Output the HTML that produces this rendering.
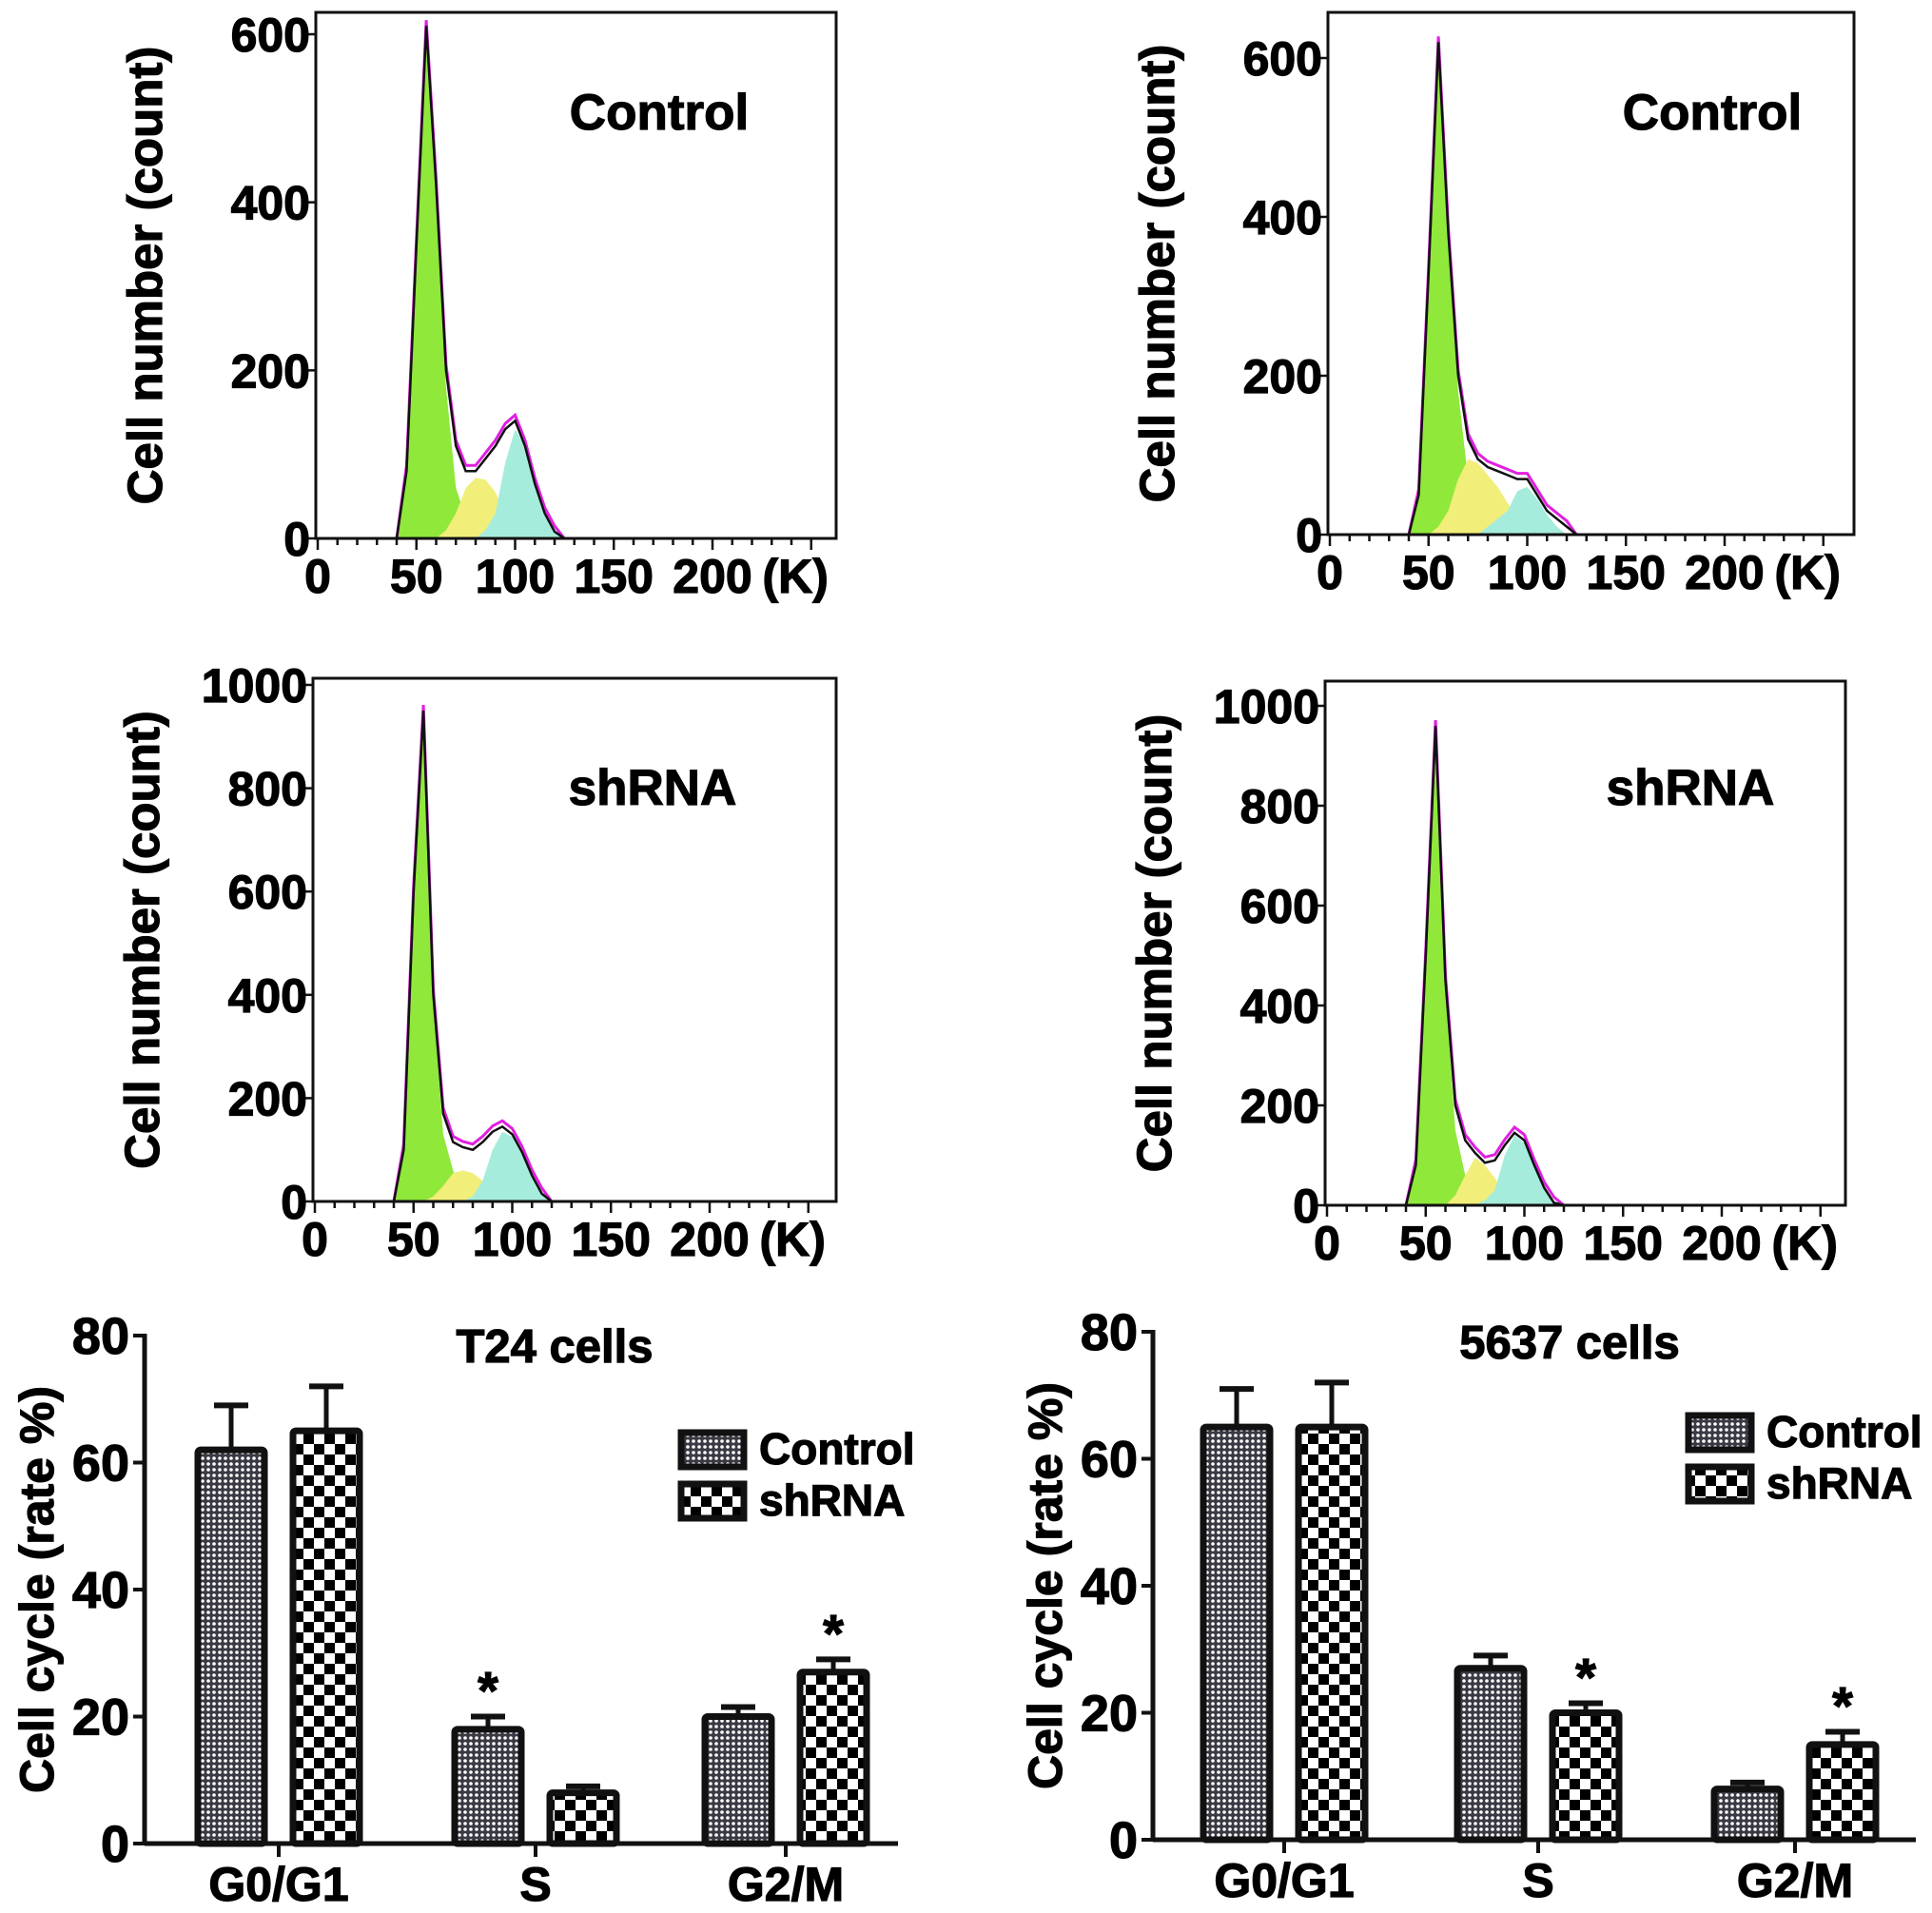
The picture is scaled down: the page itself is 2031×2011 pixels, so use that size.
<!DOCTYPE html>
<html><head><meta charset="utf-8"><style>
html,body{margin:0;padding:0;background:#fff;}
svg{display:block;font-family:"Liberation Sans",sans-serif;font-weight:bold;}
text{stroke:#000;stroke-width:1.2px;}
</style></head><body>
<svg id="fig" width="2031" height="2011" viewBox="0 0 2031 2011" xmlns="http://www.w3.org/2000/svg">
<defs>
<pattern id="patCtrl" width="6" height="6" patternUnits="userSpaceOnUse">
<rect width="6" height="6" fill="#3a3a44"/><circle cx="3" cy="3" r="1.8" fill="#fff"/>
</pattern>
<pattern id="patSh" width="22" height="22" patternUnits="userSpaceOnUse">
<rect width="22" height="22" fill="#fff"/><rect width="11" height="11" fill="#000"/><rect x="11" y="11" width="11" height="11" fill="#000"/>
</pattern>
</defs>
</svg>
<script>
// ---- Histogram data (K grid and counts) ----
const kGrid = [30,35,40,45,50,55,60,65,70,75,80,85,90,95,100,105,110,115,120,125,130];
const tlTotal = [0,0,0,80,350,610,420,200,110,80,80,95,110,130,140,110,65,30,8,0,0];
const tlG1    = [0,0,0,80,350,600,420,180,60,25,8,0,0,0,0,0,0,0,0,0,0];
const tlS     = [0,0,0,0,0,0,0,10,30,60,72,70,55,30,10,0,0,0,0,0,0];
const tlG2    = [0,0,0,0,0,0,0,0,0,0,0,10,30,90,130,110,65,30,8,0,0];
const trTotal = [0,0,0,50,330,620,380,200,120,95,85,80,75,70,70,50,30,20,10,0,0];
const trG1    = [0,0,0,50,320,600,380,180,70,30,10,0,0,0,0,0,0,0,0,0,0];
const trS     = [0,0,0,0,0,10,30,70,95,90,75,60,40,20,5,0,0,0,0,0,0];
const trG2    = [0,0,0,0,0,0,0,0,0,0,10,20,30,55,60,45,25,10,0,0,0];
const mlTotal = [0,0,0,100,600,950,400,170,115,105,100,115,135,145,130,95,50,15,0,0,0];
const mlG1    = [0,0,0,100,600,930,380,130,60,25,5,0,0,0,0,0,0,0,0,0,0];
const mlS     = [0,0,0,0,0,0,10,30,55,60,55,40,20,5,0,0,0,0,0,0,0];
const mlG2    = [0,0,0,0,0,0,0,0,0,0,10,40,100,135,125,90,50,15,0,0,0];
const mrTotal = [0,0,0,80,500,960,450,200,130,105,85,90,120,145,130,80,35,5,0,0,0];
const mrG1    = [0,0,0,80,500,950,430,150,60,25,5,0,0,0,0,0,0,0,0,0,0];
const mrS     = [0,0,0,0,0,0,0,20,60,95,80,55,25,5,0,0,0,0,0,0,0];
const mrG2    = [0,0,0,0,0,0,0,0,0,0,10,30,100,140,125,80,35,5,0,0,0];
const xTickLabels = ["0","50","100","150","200"];
const xTickVals = [0,50,100,150,200];
const yTicks600 = [0,200,400,600];
const yTicks1000 = [0,200,400,600,800,1000];

// ---- Bar chart data ----
const categories = ["G0/G1","S","G2/M"];
const t24Control = [62,18,20];
const t24ControlErr = [7,2,1.5];
const t24Sh = [65,8,27];
const t24ShErr = [7,1,2];
const c5637Control = [65,27,8];
const c5637ControlErr = [6,2,1];
const c5637Sh = [65,20,15];
const c5637ShErr = [7,1.5,2];
const barYTicks = [0,20,40,60,80];

const NS="http://www.w3.org/2000/svg";
const svg=document.getElementById('fig');
function mk(tag,attrs,parent){const e=document.createElementNS(NS,tag);for(const k in attrs)e.setAttribute(k,attrs[k]);(parent||svg).appendChild(e);return e;}

function histPanel(p){
  const g=mk('g',{});
  
  
  const sx=v=>p.left+2+v*2.075;
  const sy=v=>p.y0-(v/p.ymax)*(p.y0-p.ytop);
  function area(arr,fill,nm){
    let d='M'+sx(kGrid[0])+','+sy(0);
    arr.forEach((v,i)=>{d+=' L'+sx(kGrid[i]).toFixed(1)+','+sy(v).toFixed(1);});
    d+=' L'+sx(kGrid[kGrid.length-1])+','+sy(0)+' Z';
    const e=mk('path',{d:d,fill:fill,stroke:'none'},g);
    
    
  }
  area(p.g1,'#8fe83a','g1-phase-area');
  area(p.s,'#f2ee7a','s-phase-area');
  area(p.g2,'#a6ecdc','g2m-phase-area');
  function line(arr,col,off,nm,w){
    let d='M'+p.left+','+sy(0);
    arr.forEach((v,i)=>{d+=' L'+sx(kGrid[i]).toFixed(1)+','+(sy(v)-(v>0?off:0)).toFixed(1);});
    d+=' L'+p.right+','+sy(0);
    const e=mk('path',{d:d,fill:'none',stroke:col,'stroke-width':w},g);
    
    
  }
  line(p.total,'#e020e0',6,'fit-line',3);
  line(p.total,'#111',0,'histogram-line',2.5);
  const box=mk('rect',{x:p.left,y:p.top,width:p.right-p.left,height:p.y0-p.top,fill:'none',stroke:'#111','stroke-width':3},g);
  
  
  for(let v=0;v<=250;v+=10){
    if(sx(v)>p.right)break;
    mk('line',{x1:sx(v),x2:sx(v),y1:p.y0,y2:p.y0+(v%50===0?12:7),stroke:'#111','stroke-width':2.5},g);
  }
  xTickVals.forEach((v,i)=>{
    const t=mk('text',{x:sx(v),y:p.y0+57,'font-size':50,'text-anchor':'middle'},g);
    t.textContent=xTickLabels[i];
    
    
  });
  const kk=mk('text',{x:sx(242),y:p.y0+57,'font-size':50,'text-anchor':'middle'},g);
  kk.textContent='(K)';
  
  
  p.yticks.forEach(v=>{
    mk('line',{x1:p.left-8,x2:p.left,y1:sy(v),y2:sy(v),stroke:'#111','stroke-width':2.5},g);
    const t=mk('text',{x:p.left-6,y:sy(v)+18,'font-size':50,'text-anchor':'end'},g);
    t.textContent=v;
    
    
  });
  const yt=mk('text',{x:0,y:0,'font-size':51,'text-anchor':'middle',transform:'translate('+(p.left-162)+','+((p.top+p.y0)/2)+') rotate(-90)'},g);
  yt.textContent='Cell number (count)';
  
  
  const lb=mk('text',{x:p.lx,y:p.ly,'font-size':53,'text-anchor':'middle'},g);
  lb.textContent=p.label;
  
  
}
histPanel({name:'t24-control-histogram',left:332,right:879,top:13,y0:566,ytop:36,ymax:600,yticks:yTicks600,total:tlTotal,g1:tlG1,s:tlS,g2:tlG2,label:'Control',lx:693,ly:136});
histPanel({name:'5637-control-histogram',left:1396,right:1949,top:13,y0:562,ytop:61,ymax:600,yticks:yTicks600,total:trTotal,g1:trG1,s:trS,g2:trG2,label:'Control',lx:1800,ly:136});
histPanel({name:'t24-shrna-histogram',left:329,right:879,top:713,y0:1263,ytop:720,ymax:1000,yticks:yTicks1000,total:mlTotal,g1:mlG1,s:mlS,g2:mlG2,label:'shRNA',lx:686,ly:846});
histPanel({name:'5637-shrna-histogram',left:1393,right:1940,top:716,y0:1267,ytop:742,ymax:1000,yticks:yTicks1000,total:mrTotal,g1:mrG1,s:mrS,g2:mrG2,label:'shRNA',lx:1777,ly:846});

function barChart(p){
  const g=mk('g',{});
  
  
  const sy=v=>p.y0-(v/80)*(p.y0-p.y80);
  function bar(cx,v,err,pat,nm,star){
    const w=70,x=cx-w/2;
    mk('line',{x1:cx,x2:cx,y1:sy(v),y2:sy(v+err),stroke:'#111','stroke-width':5},g);
    mk('line',{x1:cx-18,x2:cx+18,y1:sy(v+err),y2:sy(v+err),stroke:'#111','stroke-width':6},g);
    const r=mk('rect',{x:x,y:sy(v),width:w,height:p.y0-sy(v),fill:'url(#'+pat+')',stroke:'#111','stroke-width':7,rx:3},g);
    
    
    if(star){
      const s=mk('text',{x:cx,y:sy(v+err)-8,'font-size':56,'text-anchor':'middle'},g);
      s.textContent='*';
      
      
    }
  }
  categories.forEach((c,i)=>{
    const cx=p.cx[i];
    bar(cx-50,p.ctrl[i],p.ctrlErr[i],'patCtrl','bar-control-'+i,p.starCtrl[i]);
    bar(cx+50,p.sh[i],p.shErr[i],'patSh','bar-shrna-'+i,p.starSh[i]);
    mk('line',{x1:cx,x2:cx,y1:p.y0,y2:p.y0+14,stroke:'#111','stroke-width':4},g);
    const t=mk('text',{x:cx,y:p.y0+60,'font-size':50,'text-anchor':'middle'},g);
    t.textContent=c;
    
    
  });
  mk('line',{x1:p.ax,x2:p.ax,y1:p.y80-2,y2:p.y0,stroke:'#111','stroke-width':5},g);
  mk('line',{x1:p.ax,x2:p.xr,y1:p.y0,y2:p.y0,stroke:'#111','stroke-width':5},g);
  barYTicks.forEach(v=>{
    mk('line',{x1:p.ax-12,x2:p.ax,y1:sy(v),y2:sy(v),stroke:'#111','stroke-width':4},g);
    const t=mk('text',{x:p.ax-16,y:sy(v)+19,'font-size':54,'text-anchor':'end'},g);
    t.textContent=v;
    
    
  });
  const yt=mk('text',{x:0,y:0,'font-size':50,'text-anchor':'middle',transform:'translate('+(p.ax-96)+','+((p.y80+p.y0)/2)+') rotate(-90)'},g);
  yt.textContent='Cell cycle (rate %)';
  
  
  const tt=mk('text',{x:p.tx,y:p.y80+28,'font-size':49,'text-anchor':'middle'},g);
  tt.textContent=p.title;
  
  
  [['Control','patCtrl'],['shRNA','patSh']].forEach((L,i)=>{
    const y=p.ly+i*54;
    const lg=mk('g',{},g);
    
    
    mk('rect',{x:p.lx,y:y,width:66,height:36,fill:'url(#'+L[1]+')',stroke:'#111','stroke-width':7},lg);
    const t=mk('text',{x:p.lx+82,y:y+33,'font-size':46},lg);
    t.textContent=L[0];
  });
}
barChart({name:'t24-cell-cycle-chart',ax:152,xr:944,y0:1938,y80:1404,cx:[293,563,826],ctrl:t24Control,ctrlErr:t24ControlErr,sh:t24Sh,shErr:t24ShErr,starCtrl:[false,true,false],starSh:[false,false,true],title:'T24 cells',tx:583,lx:716,ly:1506});
barChart({name:'5637-cell-cycle-chart',ax:1212,xr:2014,y0:1934,y80:1400,cx:[1350,1617,1887],ctrl:c5637Control,ctrlErr:c5637ControlErr,sh:c5637Sh,shErr:c5637ShErr,starCtrl:[false,false,false],starSh:[false,true,true],title:'5637 cells',tx:1650,lx:1775,ly:1488});
</script>
</body></html>
